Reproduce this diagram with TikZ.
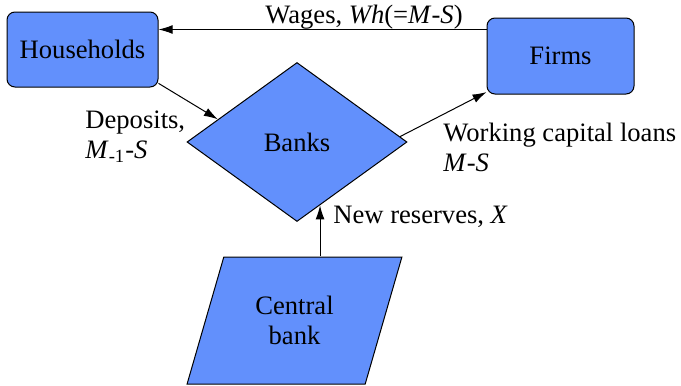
\documentclass[tikz,border=0pt]{standalone}
\usepackage{fontspec}
\setmainfont{LiberationSerif}[Extension=.ttf,UprightFont=*-Regular,ItalicFont=*-Italic,BoldFont=*-Bold,BoldItalicFont=*-BoldItalic]
\usetikzlibrary{shapes.geometric,arrows.meta}
\definecolor{boxblue}{RGB}{98,144,252}
\begin{document}
\begin{tikzpicture}[x=0.5pt,y=-0.5pt,
  every node/.style={font=\rmfamily\fontsize{13.3pt}{15pt}\selectfont},
  agent/.style={draw=black,line width=0.5pt,fill=boxblue,rounded corners=4pt,
    minimum width=75.5pt,minimum height=37.5pt,inner sep=0pt},
  bankshape/.style={diamond,draw=black,line width=0.5pt,fill=boxblue,
    minimum width=110pt,minimum height=79.5pt,inner sep=0pt,aspect=1.38},
  cbshape/.style={trapezium,draw=black,line width=0.5pt,fill=boxblue,
    trapezium left angle=67.35,trapezium right angle=112.65,trapezium stretches=true,
    minimum width=107.5pt,minimum height=63.5pt,inner sep=0pt,align=center},
  arr/.style={line width=0.5pt,-{Latex[length=7pt,width=4.4pt]}},
  lbl/.style={inner sep=0pt,align=left}]
\useasboundingbox (0,0) rectangle (681,386);
\node[agent] (hh) at (82.5,49.5) {Households};
\node[agent,minimum width=73.5pt,minimum height=38pt] (firms) at (560.5,56) {Firms};
\node[bankshape] (banks) at (297,142) {Banks};
\node[cbshape] (cb) at (294.5,320.5) {Central\\bank};
% arrows
\draw[arr] ([yshift=-6pt]firms.north west) coordinate (w1) -- (w1 -| hh.east);
\draw[arr] (hh.-24) -- (banks.164.6);
\draw[arr] (banks.3) -- (firms.206);
\draw[arr] (cb.north -| banks.-70) -- (banks.-70);
% labels
\node[lbl] (wl) at (364,17) {Wages, \textit{Wh}(=\textit{M}-\textit{S})};
\node[lbl,anchor=west] (dl) at (85,137) {Deposits,\\\textit{M}\textsubscript{-1}-\textit{S}};
\node[lbl,anchor=west] (wcl) at (443,147) {Working capital loans\\\textit{M}-\textit{S}};
\node[lbl,anchor=west] (nr) at (333,217) {New reserves, \textit{X}};
\end{tikzpicture}
\end{document}
